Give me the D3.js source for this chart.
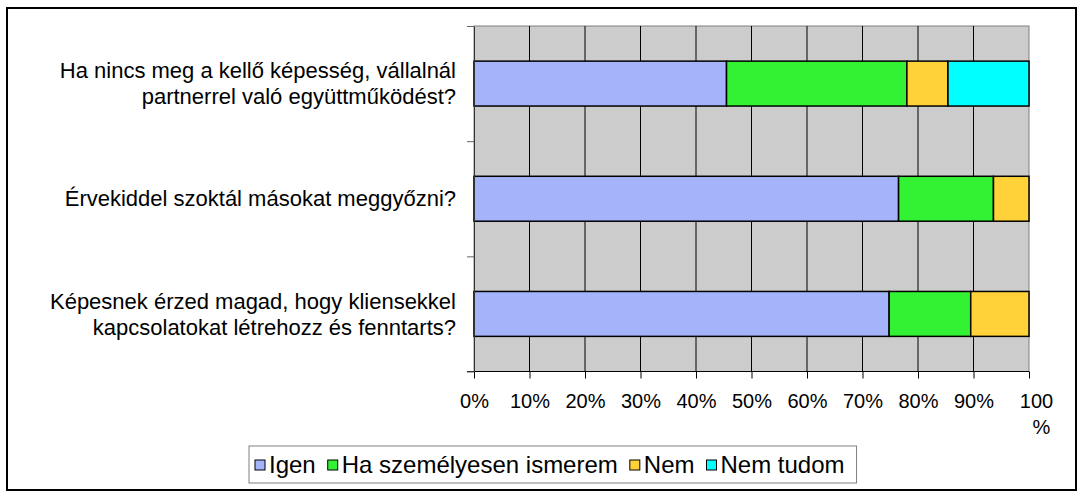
<!DOCTYPE html>
<html>
<head>
<meta charset="utf-8">
<script src="https://cdn.jsdelivr.net/npm/d3@7"></script>
<style>
  body { margin: 0; background: #fff; }
  text { font-family: "Liberation Sans", Arial, sans-serif; fill: #000; }
</style>
</head>
<body>
<div id="chart"></div>
<script>
// data
const categories = [
  'Ha nincs meg a kellő képesség, vállalnál\npartnerrel való együttműködést?',
  'Érvekiddel szoktál másokat meggyőzni?',
  'Képesnek érzed magad, hogy kliensekkel\nkapcsolatokat létrehozz és fenntarts?'
];
const seriesNames = ['Igen', 'Ha személyesen ismerem', 'Nem', 'Nem tudom'];
const igen = [45.5, 76.5, 74.8];
const haSzemelyesen = [32.5, 17.1, 14.7];
const nem = [7.4, 6.4, 10.5];
const nemTudom = [14.6, 0, 0];
const tickValues = [0, 10, 20, 30, 40, 50, 60, 70, 80, 90, 100];
const colors = ['#a5b4fa', '#33f233', '#ffd23a', '#00ffff'];

const W = 1083, H = 492;
const margin = {top: 26, right: 54, bottom: 120.5, left: 474};
const width = W - margin.left - margin.right,
      height = H - margin.top - margin.bottom;

const svg = d3.select('#chart').append('svg')
    .attr('width', W)
    .attr('height', H);

// outer frame
svg.append('rect')
    .attr('x', 7).attr('y', 8)
    .attr('width', 1069).attr('height', 482)
    .attr('fill', 'none')
    .attr('stroke', '#000')
    .attr('stroke-width', 2);

const g = svg.append('g')
    .attr('transform', `translate(${margin.left},${margin.top})`);

const xScale = d3.scaleLinear().domain([0, 100]).range([0, width]);
const yScale = d3.scaleBand().domain(categories).range([0, height]);

// plot background
g.append('rect')
    .attr('width', width).attr('height', height)
    .attr('fill', '#cccccc')
    .attr('stroke', '#808080');

// vertical gridlines
g.selectAll('.grid')
    .data(tickValues.slice(1, -1))
    .join('line')
    .attr('class', 'grid')
    .attr('x1', d => xScale(d)).attr('x2', d => xScale(d))
    .attr('y1', 0).attr('y2', height)
    .attr('stroke', '#000')
    .attr('stroke-width', 1);

// stacked bars
const rows = categories.map((c, i) => ({
  cat: c,
  'Igen': igen[i],
  'Ha személyesen ismerem': haSzemelyesen[i],
  'Nem': nem[i],
  'Nem tudom': nemTudom[i]
}));
const series = d3.stack().keys(seriesNames)(rows);
const barH = yScale.bandwidth() * 0.39;

g.selectAll('.series')
    .data(series)
    .join('g')
    .attr('class', 'series')
    .attr('fill', (d, i) => colors[i])
    .selectAll('rect')
    .data(d => d.filter(p => p[1] - p[0] > 0))
    .join('rect')
    .attr('x', d => xScale(d[0]))
    .attr('width', d => xScale(d[1]) - xScale(d[0]))
    .attr('y', d => yScale(d.data.cat) + (yScale.bandwidth() - barH) / 2)
    .attr('height', barH)
    .attr('stroke', '#000')
    .attr('stroke-width', 1.5);

// x axis
const xAxis = d3.axisBottom(xScale)
    .tickValues(tickValues)
    .tickSize(7)
    .tickSizeOuter(0)
    .tickFormat(d => d + '%');

const xg = g.append('g')
    .attr('transform', `translate(0,${height})`)
    .call(xAxis);
xg.select('.domain').remove();
xg.append('line')
    .attr('x1', -7).attr('x2', width)
    .attr('stroke', '#000');
xg.selectAll('.tick line').attr('stroke', '#000');
xg.selectAll('.tick text')
    .attr('y', 22)
    .attr('dy', '0.71em')
    .style('font-size', '20px')
    .style('font-family', '"Liberation Sans", Arial, sans-serif')
    .attr('fill', '#000')
    .each(function(d) {
      // "100%" wraps onto two lines like in the original
      if (d === 100) {
        const t = d3.select(this).text(null);
        t.append('tspan').attr('x', 7).text('100');
        t.append('tspan').attr('x', 12).attr('dy', '1.3em').text('%');
      }
    });

// y axis (ticks at band boundaries)
const yEdges = d3.scaleLinear().domain([0, categories.length]).range([0, height]);
const yAxis = d3.axisLeft(yEdges)
    .ticks(categories.length)
    .tickSize(7)
    .tickSizeOuter(0)
    .tickFormat('');
const yg = g.append('g').call(yAxis);
yg.select('.domain').attr('stroke', '#333');
yg.selectAll('.tick line').attr('stroke', '#666');

// category labels
categories.forEach(c => {
  const lines = c.split('\n');
  const cy = yScale(c) + yScale.bandwidth() / 2;
  const lh = 26;
  const t = g.append('text')
      .attr('text-anchor', 'end')
      .style('font-size', '22px');
  lines.forEach((l, i) => {
    t.append('tspan')
        .attr('x', -18)
        .attr('y', cy + (i - (lines.length - 1) / 2) * lh)
        .attr('dy', '0.35em')
        .text(l);
  });
});

// legend
const legend = svg.append('g');
const legendBox = legend.append('rect')
    .attr('fill', '#fff')
    .attr('stroke', '#808080');
let lx = 255;
const ly = 465;
seriesNames.forEach((name, i) => {
  legend.append('rect')
      .attr('x', lx).attr('y', ly - 5)
      .attr('width', 10).attr('height', 10)
      .attr('fill', colors[i])
      .attr('stroke', '#000');
  const t = legend.append('text')
      .attr('x', lx + 14).attr('y', ly)
      .attr('dy', '0.35em')
      .style('font-size', '24px')
      .text(name);
  lx += 14 + t.node().getComputedTextLength() + 12;
});
legendBox
    .attr('x', 249).attr('y', 446)
    .attr('width', lx - 249).attr('height', 37);
</script>
</body>
</html>
